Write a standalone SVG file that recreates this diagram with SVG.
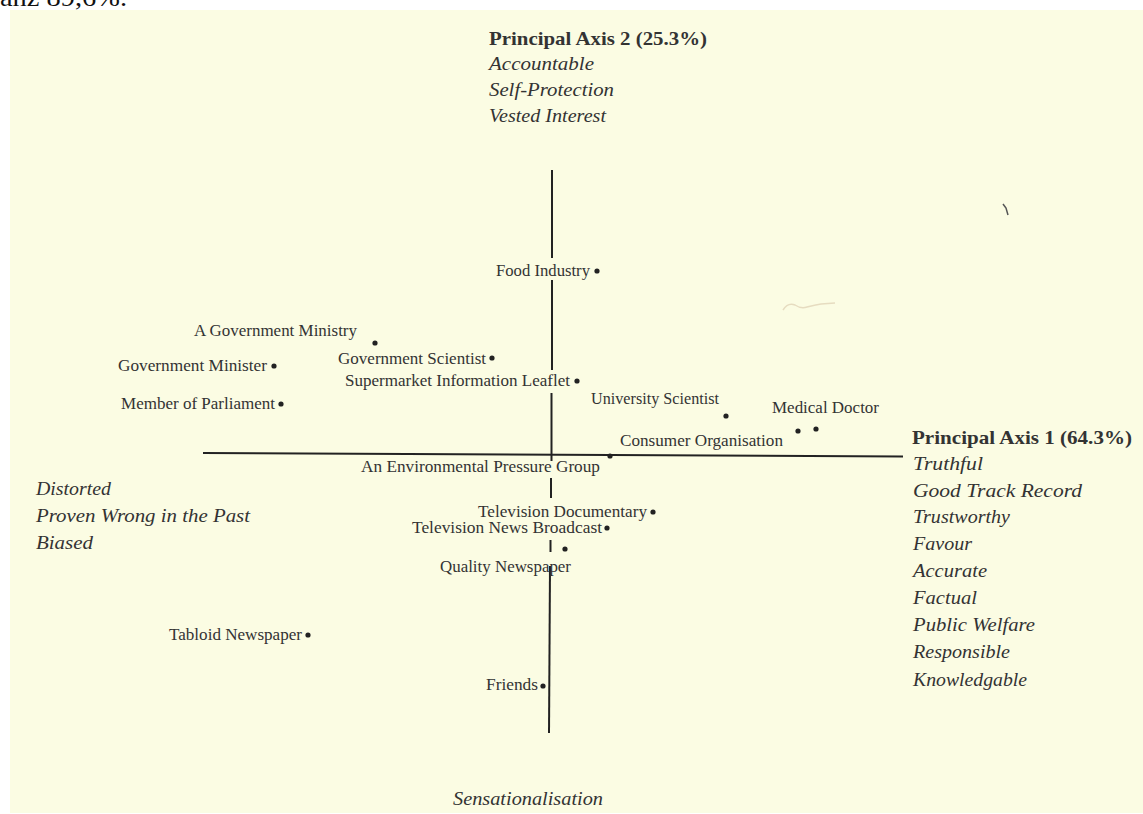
<svg xmlns="http://www.w3.org/2000/svg" width="1143" height="814" viewBox="0 0 1143 814">
<style>
text{font-family:"Liberation Serif","Times New Roman",serif;fill:#333;}
.lbl{font-size:16.5px;}
.ttl{font-size:19px;font-weight:bold;}
.it{font-size:19px;font-style:italic;}
.ax{stroke:#222;stroke-width:2;fill:none;}
.dot{fill:#222;}
</style>
<rect x="0" y="0" width="1143" height="814" fill="#ffffff"/>
<rect x="10" y="10" width="1133" height="803" fill="#fbfce3"/>
<text x="0" y="6" style="font-size:26px;fill:#111" textLength="127" lengthAdjust="spacingAndGlyphs">anz 89,6%.</text>
<path d="M1003,204 l3,4 l2,7" stroke="#555" stroke-width="1.5" fill="none"/>
<path d="M783,310 q5,-8 12,-5 q6,4 12,2 q8,-2 14,-3 l14,-1" stroke="#e6dcc0" stroke-width="1.5" fill="none"/>

<g id="axes">
  <line class="ax" x1="203" y1="453" x2="903" y2="456.5"/>
  <line class="ax" x1="552" y1="170" x2="552" y2="258"/>
  <line class="ax" x1="552" y1="280" x2="552" y2="370"/>
  <line class="ax" x1="551.5" y1="393" x2="551.5" y2="461"/>
  <line class="ax" x1="551" y1="478" x2="551" y2="498"/>
  <line class="ax" x1="550.5" y1="540" x2="550.5" y2="552"/>
  <line class="ax" x1="550" y1="566" x2="549" y2="733"/>
</g>

<g id="axis2-title">
  <text class="ttl" x="489" y="45" textLength="218" lengthAdjust="spacingAndGlyphs">Principal Axis 2 (25.3%)</text>
  <text class="it" x="489" y="70" textLength="105" lengthAdjust="spacingAndGlyphs">Accountable</text>
  <text class="it" x="489" y="96" textLength="125" lengthAdjust="spacingAndGlyphs">Self-Protection</text>
  <text class="it" x="489" y="122" textLength="117" lengthAdjust="spacingAndGlyphs">Vested Interest</text>
</g>

<g id="axis1-title">
  <text class="ttl" x="912" y="444" textLength="220" lengthAdjust="spacingAndGlyphs">Principal Axis 1 (64.3%)</text>
  <text class="it" x="913" y="470" textLength="70" lengthAdjust="spacingAndGlyphs">Truthful</text>
  <text class="it" x="913" y="497" textLength="169" lengthAdjust="spacingAndGlyphs">Good Track  Record</text>
  <text class="it" x="913" y="523" textLength="97" lengthAdjust="spacingAndGlyphs">Trustworthy</text>
  <text class="it" x="913" y="550" textLength="59" lengthAdjust="spacingAndGlyphs">Favour</text>
  <text class="it" x="913" y="577" textLength="74" lengthAdjust="spacingAndGlyphs">Accurate</text>
  <text class="it" x="913" y="604" textLength="64" lengthAdjust="spacingAndGlyphs">Factual</text>
  <text class="it" x="913" y="631" textLength="122" lengthAdjust="spacingAndGlyphs">Public Welfare</text>
  <text class="it" x="913" y="658" textLength="97" lengthAdjust="spacingAndGlyphs">Responsible</text>
  <text class="it" x="913" y="686" textLength="114" lengthAdjust="spacingAndGlyphs">Knowledgable</text>
</g>

<g id="axis1-negative">
  <text class="it" x="36" y="495" textLength="75" lengthAdjust="spacingAndGlyphs">Distorted</text>
  <text class="it" x="36" y="522" textLength="214" lengthAdjust="spacingAndGlyphs">Proven Wrong in the Past</text>
  <text class="it" x="36" y="549" textLength="57" lengthAdjust="spacingAndGlyphs">Biased</text>
</g>

<g id="axis2-negative">
  <text class="it" x="453" y="805" textLength="150" lengthAdjust="spacingAndGlyphs">Sensationalisation</text>
</g>

<g id="food-industry">
  <text class="lbl" x="496" y="276" textLength="94" lengthAdjust="spacingAndGlyphs">Food Industry</text>
  <circle class="dot" cx="597" cy="271" r="2.6"/>
</g>
<g id="government-ministry">
  <text class="lbl" x="194" y="336" textLength="163" lengthAdjust="spacingAndGlyphs">A Government Ministry</text>
  <circle class="dot" cx="375" cy="343" r="2.6"/>
</g>
<g id="government-minister">
  <text class="lbl" x="118" y="371" textLength="149" lengthAdjust="spacingAndGlyphs">Government Minister</text>
  <circle class="dot" cx="274" cy="366" r="2.6"/>
</g>
<g id="government-scientist">
  <text class="lbl" x="338" y="364" textLength="148" lengthAdjust="spacingAndGlyphs">Government Scientist</text>
  <circle class="dot" cx="492" cy="358" r="2.6"/>
</g>
<g id="supermarket-leaflet">
  <text class="lbl" x="345" y="386" textLength="225" lengthAdjust="spacingAndGlyphs">Supermarket Information Leaflet</text>
  <circle class="dot" cx="577" cy="381" r="2.6"/>
</g>
<g id="member-of-parliament">
  <text class="lbl" x="121" y="409" textLength="154" lengthAdjust="spacingAndGlyphs">Member of Parliament</text>
  <circle class="dot" cx="281" cy="404" r="2.6"/>
</g>
<g id="university-scientist">
  <text class="lbl" x="591" y="404" textLength="128" lengthAdjust="spacingAndGlyphs">University Scientist</text>
  <circle class="dot" cx="726" cy="416" r="2.6"/>
</g>
<g id="medical-doctor">
  <text class="lbl" x="772" y="413" textLength="107" lengthAdjust="spacingAndGlyphs">Medical Doctor</text>
  <circle class="dot" cx="798" cy="431" r="2.6"/>
  <circle class="dot" cx="816" cy="429" r="2.6"/>
</g>
<g id="consumer-organisation">
  <text class="lbl" x="620" y="446" textLength="163" lengthAdjust="spacingAndGlyphs">Consumer Organisation</text>
</g>
<g id="environmental-group">
  <text class="lbl" x="361" y="472" textLength="239" lengthAdjust="spacingAndGlyphs">An Environmental Pressure Group</text>
  <circle class="dot" cx="610" cy="456" r="2.6"/>
</g>
<g id="tv-documentary">
  <text class="lbl" x="478" y="517" textLength="169" lengthAdjust="spacingAndGlyphs">Television Documentary</text>
  <circle class="dot" cx="653" cy="512" r="2.6"/>
</g>
<g id="tv-news">
  <text class="lbl" x="412" y="533" textLength="190" lengthAdjust="spacingAndGlyphs">Television News Broadcast</text>
  <circle class="dot" cx="607" cy="528" r="2.6"/>
</g>
<g id="quality-newspaper">
  <text class="lbl" x="440" y="572" textLength="131" lengthAdjust="spacingAndGlyphs">Quality Newspaper</text>
  <circle class="dot" cx="565" cy="549" r="2.6"/>
</g>
<g id="tabloid-newspaper">
  <text class="lbl" x="169" y="640" textLength="133" lengthAdjust="spacingAndGlyphs">Tabloid Newspaper</text>
  <circle class="dot" cx="308" cy="635" r="2.6"/>
</g>
<g id="friends">
  <text class="lbl" x="486" y="690" textLength="52" lengthAdjust="spacingAndGlyphs">Friends</text>
  <circle class="dot" cx="543" cy="686" r="2.6"/>
</g>
</svg>
